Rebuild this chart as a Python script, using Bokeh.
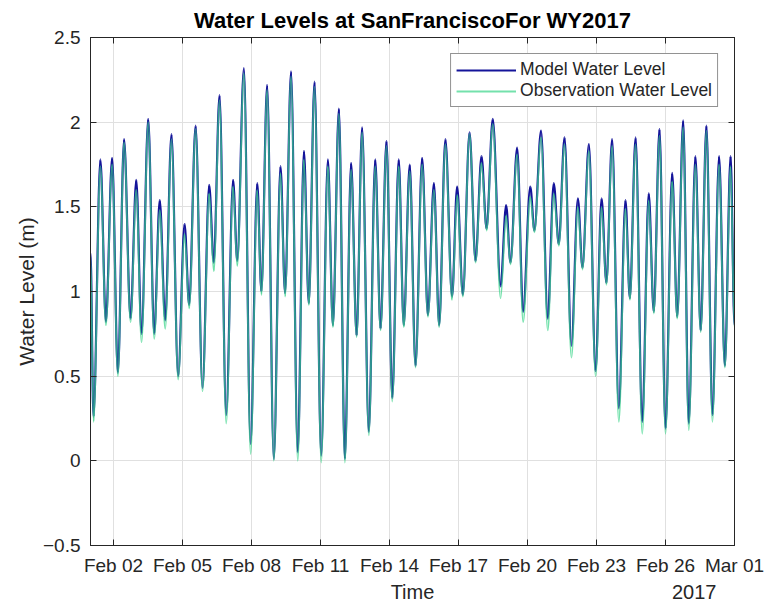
import numpy as np
import pandas as pd
from bokeh.plotting import figure
from bokeh.models import (ColumnDataSource, FixedTicker, DatetimeTickFormatter, Range1d,
                          LinearAxis, DatetimeAxis, Legend, LegendItem)
from bokeh.embed import file_html
from bokeh.resources import INLINE

# ---- data ----
start_date = "2017-02-01"
end_date = "2017-03-01"
# time of each tidal extreme, days since Feb 01 00:00
t_days = [0.00, 0.13, 0.43, 0.67, 0.94, 1.19, 1.46, 1.74, 1.99, 2.22,
          2.51, 2.77, 3.01, 3.25, 3.52, 3.81, 4.09, 4.29, 4.57, 4.87,
          5.16, 5.36, 5.61, 5.90, 6.20, 6.38, 6.67, 6.96, 7.25, 7.43,
          7.68, 7.97, 8.26, 8.46, 8.72, 9.01, 9.28, 9.49, 9.74, 10.03,
          10.32, 10.54, 10.80, 11.06, 11.33, 11.57, 11.81, 12.10, 12.38, 12.61,
          12.87, 13.12, 13.40, 13.62, 13.88, 14.13, 14.42, 14.67, 14.93, 15.16,
          15.43, 15.72, 15.94, 16.19, 16.48, 16.74, 17.00, 17.22, 17.49, 17.83,
          18.07, 18.26, 18.55, 18.81, 19.12, 19.30, 19.59, 19.88, 20.14, 20.36,
          20.61, 20.91, 21.19, 21.39, 21.67, 21.96, 22.22, 22.43, 22.68, 22.97,
          23.26, 23.45, 23.70, 23.99, 24.27, 24.49, 24.74, 25.00, 25.29, 25.51,
          25.77, 26.01, 26.30, 26.53, 26.78, 27.04, 27.33, 27.58, 27.83, 28.00]
model_level = [1.23, 0.26, 1.78, 0.82, 1.79, 0.52, 1.90, 0.84, 1.66, 0.75,
               2.02, 0.75, 1.54, 0.83, 1.93, 0.50, 1.40, 0.92, 1.98, 0.43,
               1.63, 1.17, 2.16, 0.27, 1.66, 1.18, 2.32, 0.10, 1.64, 1.00,
               2.22, 0.01, 1.74, 0.99, 2.30, 0.05, 1.83, 0.93, 2.24, 0.03,
               1.78, 0.80, 2.08, 0.01, 1.76, 0.74, 1.97, 0.17, 1.78, 0.78,
               1.89, 0.37, 1.78, 0.80, 1.75, 0.56, 1.79, 0.86, 1.64, 0.80,
               1.90, 0.97, 1.62, 0.98, 1.94, 1.18, 1.80, 1.37, 2.02, 1.03,
               1.51, 1.17, 1.85, 0.88, 1.62, 1.36, 1.95, 0.84, 1.64, 1.28,
               1.91, 0.68, 1.55, 1.14, 1.87, 0.53, 1.55, 1.05, 1.90, 0.31,
               1.54, 0.96, 1.91, 0.23, 1.58, 0.88, 1.96, 0.19, 1.70, 0.85,
               2.01, 0.22, 1.80, 0.77, 1.98, 0.27, 1.80, 0.56, 1.80, 0.80]
obs_level = [1.22, 0.23, 1.74, 0.80, 1.75, 0.50, 1.88, 0.82, 1.60, 0.70,
             2.00, 0.72, 1.48, 0.78, 1.90, 0.48, 1.34, 0.90, 1.96, 0.41,
             1.58, 1.12, 2.13, 0.22, 1.62, 1.15, 2.29, 0.04, 1.60, 0.98,
             2.19, 0.00, 1.70, 0.97, 2.27, 0.00, 1.78, 0.92, 2.21, -0.01,
             1.74, 0.79, 2.05, -0.01, 1.72, 0.73, 1.94, 0.15, 1.74, 0.77,
             1.86, 0.35, 1.74, 0.79, 1.71, 0.55, 1.75, 0.85, 1.60, 0.79,
             1.87, 0.95, 1.57, 0.97, 1.93, 1.17, 1.76, 1.36, 1.99, 0.96,
             1.45, 1.16, 1.81, 0.82, 1.56, 1.35, 1.91, 0.77, 1.58, 1.27,
             1.87, 0.61, 1.50, 1.13, 1.83, 0.50, 1.50, 1.04, 1.86, 0.23,
             1.49, 0.95, 1.87, 0.16, 1.54, 0.87, 1.92, 0.16, 1.65, 0.84,
             1.97, 0.18, 1.75, 0.76, 1.95, 0.23, 1.75, 0.55, 1.74, 0.78]
x_tick_dates = ["2017-02-02", "2017-02-05", "2017-02-08", "2017-02-11", "2017-02-14",
                "2017-02-17", "2017-02-20", "2017-02-23", "2017-02-26", "2017-03-01"]
y_ticks = [-0.5, 0, 0.5, 1, 1.5, 2, 2.5]
y_start, y_end = -0.5, 2.5
x_title = "Time"
year_text = "2017"

# ---- helpers ----
DAY_MS = 86400000.0
start_ms = pd.Timestamp(start_date).value / 1e6
end_ms = pd.Timestamp(end_date).value / 1e6
tick_ms = [pd.Timestamp(d).value / 1e6 for d in x_tick_dates]


def curve_source(t, y):
    x = start_ms + np.asarray(t) * DAY_MS
    y = np.asarray(y, dtype=float)
    x0, x1 = x[:-1], x[1:]
    y0, y1 = y[:-1], y[1:]
    dx = x1 - x0
    return ColumnDataSource(dict(x0=x0, y0=y0, x1=x1, y1=y1,
                                 cx0=x0 + dx / 3.0, cy0=y0,
                                 cx1=x1 - dx / 3.0, cy1=y1))


FONT = "Liberation Sans"
TXT = "#262626"

p = figure(width=765, height=605, output_backend="svg", toolbar_location=None,
           x_axis_type="datetime",
           x_range=Range1d(start_ms, end_ms), y_range=Range1d(y_start, y_end),
           min_border_left=90, min_border_right=31, min_border_top=37, min_border_bottom=60,
           background_fill_color="white", border_fill_color="white")

p.title.text = "Water Levels at SanFranciscoFor WY2017"
p.title.text_font = FONT
p.title.text_font_size = "22px"
p.title.text_font_style = "bold"
p.title.text_color = "black"
p.title.align = "center"

src_m = curve_source(t_days, model_level)
src_o = curve_source(t_days, obs_level)
r_m = p.bezier(x0="x0", y0="y0", x1="x1", y1="y1", cx0="cx0", cy0="cy0", cx1="cx1", cy1="cy1",
               source=src_m, line_color="#14149a", line_width=2.2)
r_o = p.bezier(x0="x0", y0="y0", x1="x1", y1="y1", cx0="cx0", cy0="cy0", cx1="cx1", cy1="cy1",
               source=src_o, line_color="#3fd68c", line_width=1.8, line_alpha=0.72)

# axes
xa = p.xaxis[0]
xa.ticker = FixedTicker(ticks=tick_ms)
xa.formatter = DatetimeTickFormatter(days="%b %d", months="%b %d", hours="%b %d")
ya = p.yaxis[0]
ya.ticker = FixedTicker(ticks=y_ticks)
for ax in (xa, ya):
    ax.major_tick_in = 6
    ax.major_tick_out = 0
    ax.minor_tick_line_color = None
    ax.axis_line_color = TXT
    ax.major_tick_line_color = TXT
    ax.major_label_text_font = FONT
    ax.major_label_text_font_size = "19px"
    ax.major_label_text_color = TXT
    ax.axis_label_text_font = FONT
    ax.axis_label_text_font_size = "21px"
    ax.axis_label_text_font_style = "normal"
    ax.axis_label_text_color = TXT
ya.axis_label = "Water Level (m)"
xa.major_label_standoff = 9
ya.major_label_standoff = 10
ya.axis_label_standoff = 2

# second row under the date labels: axis title and the year
mid_ms = (start_ms + end_ms) / 2.0
year_ms = end_ms - 1.75 * DAY_MS
xa2 = DatetimeAxis(ticker=FixedTicker(ticks=[mid_ms, year_ms]),
                   major_label_overrides={mid_ms: x_title, year_ms: year_text})
xa2.axis_line_color = None
xa2.major_tick_line_color = None
xa2.minor_tick_line_color = None
xa2.major_tick_in = 0
xa2.major_tick_out = 0
xa2.major_label_standoff = 2
xa2.major_label_text_font = FONT
xa2.major_label_text_font_size = "20px"
xa2.major_label_text_color = TXT
p.add_layout(xa2, "below")

# mirror ticks on top and right (no labels)
top = DatetimeAxis(ticker=FixedTicker(ticks=tick_ms),
                   major_label_overrides={v: "" for v in tick_ms})
right = LinearAxis(ticker=FixedTicker(ticks=y_ticks),
                   major_label_overrides={v: "" for v in y_ticks})
for ax in (top, right):
    ax.major_tick_in = 6
    ax.major_tick_out = 0
    ax.minor_tick_line_color = None
    ax.axis_line_color = TXT
    ax.major_tick_line_color = TXT
    ax.major_label_standoff = 0
    ax.major_label_text_font_size = "1px"
p.add_layout(top, "above")
p.add_layout(right, "right")

p.grid.grid_line_color = "#e0e0e0"
p.grid.grid_line_width = 1
p.outline_line_color = TXT

# legend
legend = Legend(items=[LegendItem(label="Model Water Level", renderers=[r_m]),
                       LegendItem(label="Observation Water Level", renderers=[r_o])],
                location="top_right", margin=16, padding=5, spacing=0,
                glyph_width=60, glyph_height=20, label_standoff=4, label_height=20,
                label_text_font=FONT, label_text_font_size="17.5px", label_text_color=TXT,
                border_line_color=TXT, border_line_width=1, background_fill_color="white",
                background_fill_alpha=1.0)
p.add_layout(legend, "center")

open("out.html", "w").write(file_html(p, INLINE))
